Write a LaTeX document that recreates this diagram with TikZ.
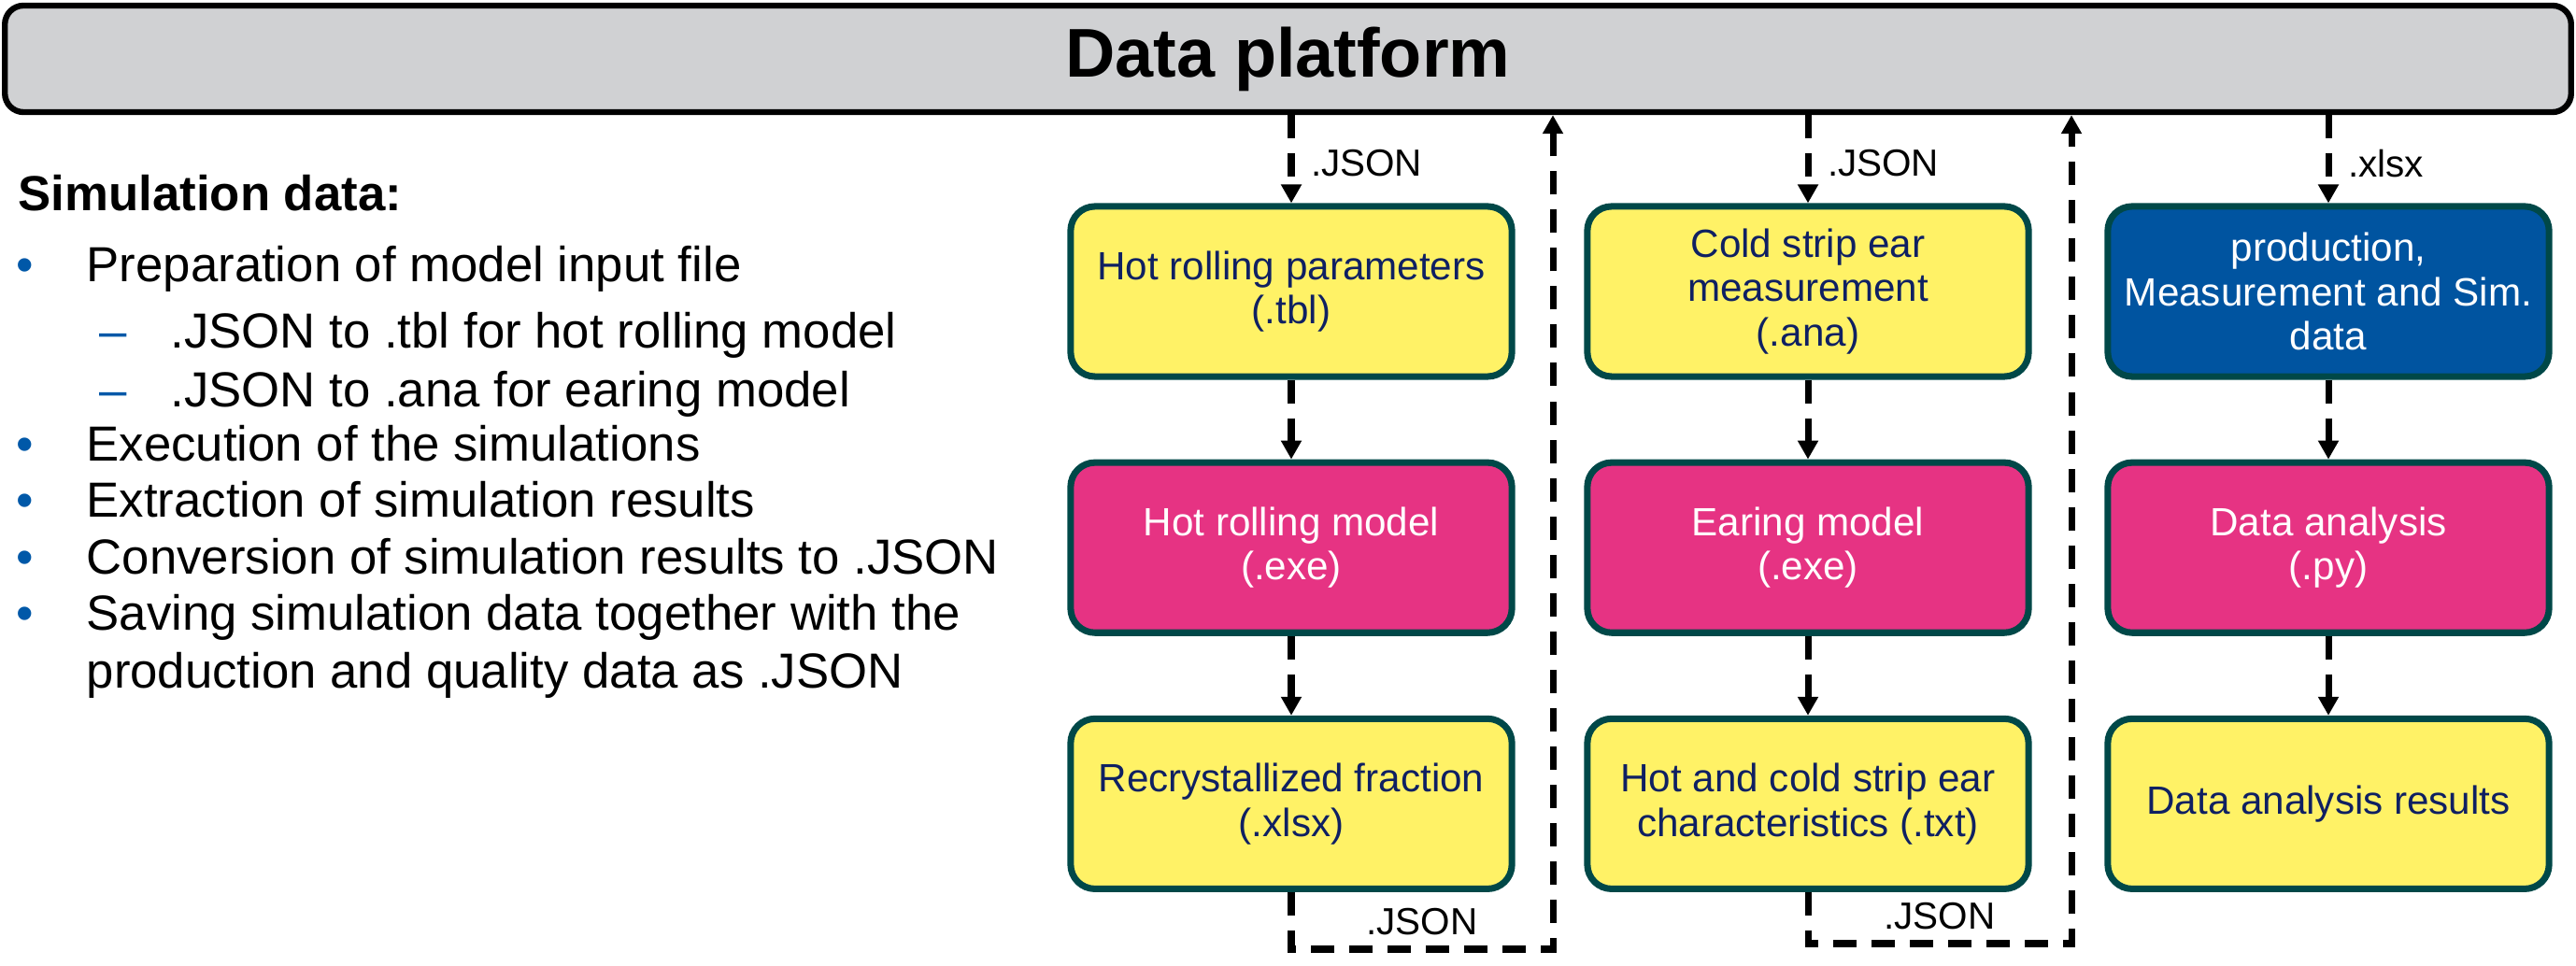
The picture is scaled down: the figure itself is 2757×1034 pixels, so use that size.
\documentclass[tikz,border=0pt]{standalone}
\usepackage{fontspec}
\setmainfont{Liberation Sans}
\usepackage{xcolor}
\usepackage{tikz}
\usetikzlibrary{positioning}
\usetikzlibrary{arrows.meta}

\definecolor{platgrey}{HTML}{D0D1D3}
\definecolor{fileyellow}{HTML}{FFF266}
\definecolor{modelpink}{HTML}{E63383}
\definecolor{datablue}{HTML}{0054A0}
\definecolor{boxedge}{HTML}{004848}
\definecolor{navytext}{HTML}{0F2062}
\definecolor{bulletblue}{HTML}{0058A8}

\tikzset{
  platform/.style={rectangle, rounded corners=0.2cm, draw=black, line width=1.8pt,
    fill=platgrey, minimum width=27.45cm, minimum height=1.14cm,
    font=\bfseries\fontsize{21pt}{25pt}\selectfont},
  box/.style={rectangle, rounded corners=0.26cm, draw=boxedge, line width=2pt,
    minimum width=4.72cm, minimum height=1.82cm, align=center, inner sep=2pt,
    font=\fontsize{12pt}{13.5pt}\selectfont},
  filebox/.style={box, fill=fileyellow, text=navytext},
  modelbox/.style={box, fill=modelpink, text=white},
  databox/.style={box, fill=datablue, text=white},
  flow/.style={draw, line width=2pt, dash pattern=on 0.25cm off 0.16cm,
    -{Triangle[length=0.2cm,width=0.21cm]}},
  lbl/.style={font=\fontsize{11.5pt}{13pt}\selectfont, inner sep=1pt},
  listtxt/.style={anchor=base west, inner sep=0pt, font=\fontsize{15pt}{18pt}\selectfont},
  bul/.style={listtxt, text=bulletblue}
}

\begin{document}
\begin{tikzpicture}[x=0.01cm, y=-0.01cm, node distance=0.85cm]
\useasboundingbox (0,0) rectangle (2757,1034);

\node[platform] (dp) at (1378.5,63) {Data platform};

% simulation column
\node[filebox]  (hrp) at (1382,312)  {Hot rolling parameters\\(.tbl)};
\node[modelbox] (hrm) [below=of hrp] {Hot rolling model\\(.exe)};
\node[filebox]  (rcf) [below=of hrm] {Recrystallized fraction\\(.xlsx)};

% earing column
\node[filebox]  (cse) at (1935,312)  {Cold strip ear\\measurement\\(.ana)};
\node[modelbox] (erm) [below=of cse] {Earing model\\(.exe)};
\node[filebox]  (hce) [below=of erm] {Hot and cold strip ear\\characteristics (.txt)};

% analysis column
\node[databox]  (pms) at (2492,312)  {production,\\Measurement and Sim.\\data};
\node[modelbox] (dan) [below=of pms] {Data analysis\\(.py)};
\node[filebox]  (dar) [below=of dan] {Data analysis results};

\coordinate (ret1) at (1662,1016);
\coordinate (ret2) at (2217,1010);

\draw[flow] (dp.south -| hrp.north) -- node[lbl, right=0.14cm, pos=0.55] {.JSON} (hrp.north);
\draw[flow] (hrp) -- (hrm);
\draw[flow] (hrm) -- (rcf);
\draw[flow] (rcf.south) |- node[lbl, pos=0.75, above=0.08cm] {.JSON} (ret1) -- (dp.south -| ret1);

\draw[flow] (dp.south -| cse.north) -- node[lbl, right=0.14cm, pos=0.55] {.JSON} (cse.north);
\draw[flow] (cse) -- (erm);
\draw[flow] (erm) -- (hce);
\draw[flow] (hce.south) |- node[lbl, pos=0.75, above=0.08cm] {.JSON} (ret2) -- (dp.south -| ret2);

\draw[flow] (dp.south -| pms.north) -- node[lbl, right=0.14cm, pos=0.55] {.xlsx} (pms.north);
\draw[flow] (pms) -- (dan);
\draw[flow] (dan) -- (dar);

% left list
\node[listtxt, font=\bfseries\fontsize{15pt}{18pt}\selectfont] (head) at (19,226) {Simulation data:};
\node[bul] (b1) at (17,302) {•};
\node[listtxt] (t1) at (92,302) {Preparation of model input file};
\node[bul] (d1) at (106,373) {–};
\node[listtxt] (s1) at (182,373) {.JSON to .tbl for hot rolling model};
\node[bul] (d2) at (106,436) {–};
\node[listtxt] (s2) at (182,436) {.JSON to .ana for earing model};
\node[bul] (b2) at (17,494) {•};
\node[listtxt] (t2) at (92,494) {Execution of the simulations};
\node[bul] (b3) at (17,554) {•};
\node[listtxt] (t3) at (92,554) {Extraction of simulation results};
\node[bul] (b4) at (17,615) {•};
\node[listtxt] (t4) at (92,615) {Conversion of simulation results to .JSON};
\node[bul] (b5) at (17,675) {•};
\node[listtxt] (t5) at (92,675) {Saving simulation data together with the};
\node[listtxt] (t6) at (92,737) {production and quality data as .JSON};
\end{tikzpicture}
\end{document}
